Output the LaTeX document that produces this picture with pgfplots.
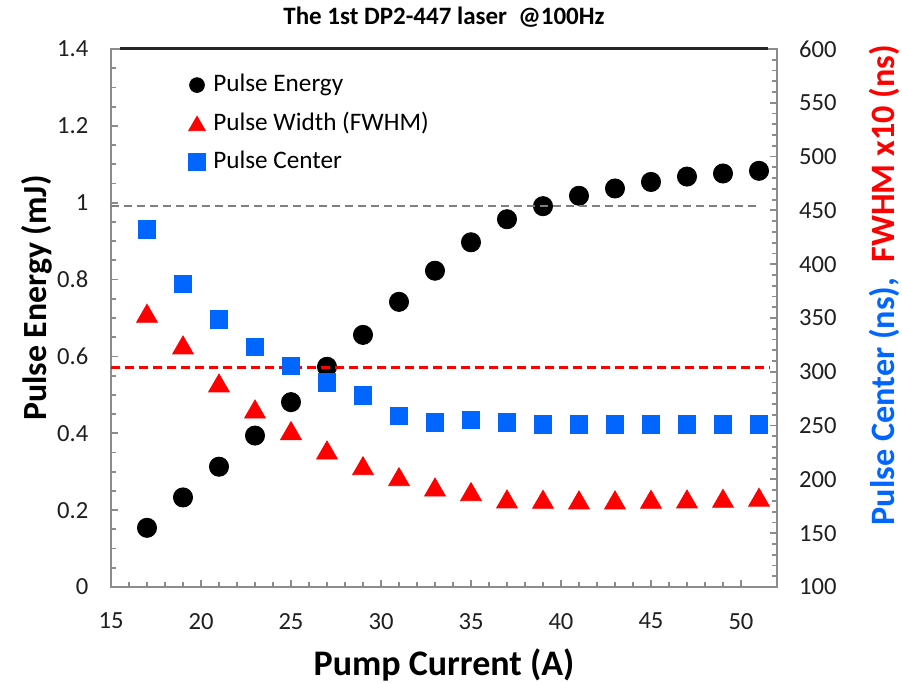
\documentclass[border=0pt]{standalone}
\usepackage{fontspec}
\setmainfont{Carlito}
\usepackage{pgfplots}
\usepackage{pgfplotstable}
\pgfplotsset{compat=1.18}
\definecolor{axgray}{HTML}{8C8C8C}
\definecolor{tickcol}{HTML}{1F1F1F}
\definecolor{myblue}{HTML}{0066FF}
\definecolor{myred}{HTML}{FF0000}
\definecolor{dashgray}{HTML}{7F7F7F}

\pgfplotstableread{
x y
17 0.154
19 0.233
21 0.313
23 0.394
25 0.481
27 0.573
29 0.656
31 0.742
33 0.823
35 0.897
37 0.957
39 0.991
41 1.018
43 1.037
45 1.054
47 1.068
49 1.076
51 1.083
}\tabE

\pgfplotstableread{
x y
17 354.4
19 324.9
21 289.6
23 265.4
25 245.3
27 227.3
29 212.7
31 202.5
33 192.9
35 188.6
37 181.8
39 181.5
41 180.9
43 180.9
45 181.5
47 181.8
49 182.4
51 183.4
}\tabW

\pgfplotstableread{
x y
17 432.4
19 381.6
21 348.8
23 323.3
25 305.4
27 290.2
29 277.8
31 258.9
33 252.7
35 255.2
37 252.7
39 251.2
41 251.2
43 251.2
45 251.2
47 251.2
49 251.2
51 251.2
}\tabC

\begin{document}
\begin{tikzpicture}
\pgfplotsset{
  base/.style={
    scale only axis, width=333pt, height=269pt,
    xmin=15, xmax=52,
    clip=false,
    axis line style={axgray, line width=1pt},
    tick align=inside,
    major tick style={axgray, line width=0.9pt},
    minor tick style={axgray, line width=0.9pt},
    major tick length=3.5pt, minor tick length=2.5pt,
    tick label style={font=\fontsize{12.3}{14}\selectfont, text=tickcol},
    /pgf/number format/assume math mode=true,
  }
}
\path[use as bounding box] (-55.5pt,-48pt) rectangle (395.5pt,293.5pt);
\begin{axis}[base,
  ymin=0, ymax=1.4,
  xtick={15,20,25,30,35,40,45,50}, minor x tick num=4,
  ytick={0,0.2,0.4,0.6,0.8,1,1.2,1.4}, minor y tick num=3,
  xtick pos=bottom, ytick pos=left,
  xticklabel style={yshift=-9.5pt},
  yticklabel style={xshift=-7.8pt},
  title={The 1st DP2-447 laser\ \ @100Hz},
  title style={at={(rel axis cs:0.5,1)}, anchor=base, yshift=6pt, font=\fontsize{12.5}{14}\selectfont\bfseries},
  xlabel={Pump Current (A)},
  xlabel style={at={(rel axis cs:0.5,0)}, anchor=base, yshift=-44.5pt, font=\fontsize{18}{20}\selectfont\bfseries},
  ylabel={Pulse Energy (mJ)},
  ylabel style={at={(rel axis cs:0,0.537)}, anchor=base, yshift=32pt, font=\fontsize{16.9}{20}\selectfont\bfseries},
]
\addplot[only marks, mark=*, mark size=4.8pt, black] table {\tabE};
\addplot[forget plot, no marks, black!85, line width=1.5pt] coordinates {(15.5,1.4) (51.5,1.4)};
\end{axis}
\begin{axis}[base,
  ymin=100, ymax=600,
  axis x line=none,
  axis y line*=right,
  ytick={100,150,200,250,300,350,400,450,500,550,600}, minor y tick num=4,
  yticklabel style={xshift=7.5pt},
  ylabel={{\color{myblue}Pulse Center (ns),}\ \ {\color{myred}FWHM x10 (ns)}},
  ylabel style={at={(rel axis cs:1,0.561)}, anchor=base, yshift=-59pt, font=\fontsize{17.1}{20}\selectfont\bfseries},
  legend image code/.code={\draw[#1] plot coordinates {(0pt,3.3pt)};},
  legend entries={Pulse Energy, Pulse Width (FWHM), Pulse Center},
  legend style={at={(rel axis cs:0.1164,0.956)}, anchor=north west, draw=none, fill=none,
    inner sep=0pt, outer sep=0pt, row sep=6.7pt, column sep=3.9pt,
    font=\fontsize{12.6}{15}\selectfont,
    nodes={inner sep=0pt, text height=9.5pt, text depth=3pt},
    cells={anchor=base west}},
]
\addlegendimage{only marks, mark=*, mark size=3.7pt, black}
\addlegendimage{only marks, mark=triangle*, mark size=4.8pt, myred, mark options={yshift=-1.2pt}}
\addlegendimage{only marks, mark=square*, mark size=4.25pt, myblue}
\addplot[forget plot, only marks, mark=triangle*, mark size=6pt, myred, mark options={yshift=-1.5pt}] table {\tabW};
\addplot[forget plot, only marks, mark=square*, mark size=4.4pt, myblue] table {\tabC};
\addplot[forget plot, no marks, draw=dashgray, dash pattern=on 4pt off 2.5pt, line width=1pt] coordinates {(15,454.3) (50.9,454.3)};
\addplot[forget plot, no marks, color=myred, draw=myred, dash pattern=on 4.5pt off 2.5pt, line width=1.3pt] coordinates {(15,304) (51.6,304)};
\end{axis}
\end{tikzpicture}
\end{document}
